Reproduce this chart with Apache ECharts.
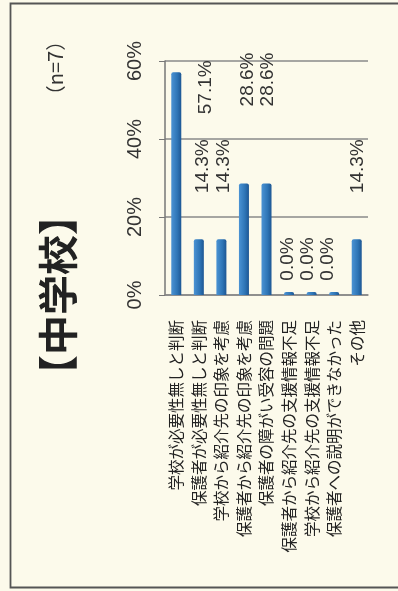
<!DOCTYPE html>
<html>
<head>
<meta charset="utf-8">
<script src="https://cdn.jsdelivr.net/npm/echarts@6/dist/echarts.min.js"></script>
<style>
  html, body { margin: 0; padding: 0; background: #fcfaeb; }
  #chart { width: 398px; height: 591px; }
</style>
</head>
<body>
<div id="chart"></div>
<script>
// 項目
const categories = [
  '学校が必要性無しと判断',
  '保護者が必要性無しと判断',
  '学校から紹介先の印象を考慮',
  '保護者から紹介先の印象を考慮',
  '保護者の障がい受容の問題',
  '保護者から紹介先の支援情報不足',
  '学校から紹介先の支援情報不足',
  '保護者への説明ができなかった',
  'その他'
]
// 割合(%)
const values = [57.1, 14.3, 14.3, 28.6, 28.6, 0.0, 0.0, 0.0, 14.3]
// 目盛
const valueMin = 0
const valueMax = 60
const valueStep = 20

// ラベル位置（棒の左上からの位置）
const labelPos = [[34, 15], [9, -73], [7, -73], [9, -104], [6, -104], [4, -33], [1, -33], [-1, -33], [6, -73]]

const chart = echarts.init(document.getElementById('chart'))

chart.setOption({
  backgroundColor: '#fcfaeb',
  animation: false,
  grid: { left: 165, right: 30, top: 61, bottom: 296 },
  graphic: [
    {
      type: 'rect',
      shape: { x: 10.5, y: 3.5, width: 420, height: 584 },
      style: { fill: 'none', stroke: '#555', lineWidth: 1.8 },
      silent: true
    },
    {
      type: 'text',
      x: 58, y: 295, rotation: Math.PI / 2,
      style: {
        text: '【中学校】',
        font: 'bold 40px "Noto Sans CJK JP"',
        fill: '#222',
        align: 'center',
        verticalAlign: 'middle'
      }
    },
    {
      type: 'text',
      x: 55, y: 68, rotation: Math.PI / 2,
      style: {
        text: '（n=7）',
        font: '20px "Noto Sans CJK JP"',
        fill: '#333',
        align: 'center',
        verticalAlign: 'middle'
      }
    }
  ],
  xAxis: {
    type: 'category',
    data: categories,
    axisLine: { lineStyle: { color: '#888', width: 1.5 } },
    axisTick: { show: false },
    axisLabel: {
      interval: 0,
      rotate: 90,
      margin: 25,
      fontSize: 15.5,
      fontFamily: '"Noto Sans CJK JP"',
      color: '#222'
    }
  },
  yAxis: {
    type: 'value',
    min: valueMin,
    max: valueMax,
    interval: valueStep,
    axisLine: { show: true, lineStyle: { color: '#777', width: 1.5 } },
    axisTick: { show: true, length: 6, lineStyle: { color: '#777' } },
    splitLine: { lineStyle: { color: '#8a8a8a', width: 1.5 } },
    axisLabel: {
      rotate: 90,
      margin: 20,
      fontSize: 20,
      fontFamily: '"Liberation Sans"',
      color: '#333',
      formatter: '{value}%'
    }
  },
  series: [{
    type: 'bar',
    barWidth: 10,
    barMinHeight: 3,
    data: values.map((v, i) => ({
      value: v,
      label: { position: labelPos[i] }
    })),
    itemStyle: {
      borderRadius: [2, 2, 0, 0],
      color: new echarts.graphic.LinearGradient(0, 0, 1, 0, [
        { offset: 0, color: '#4b93d4' },
        { offset: 0.6, color: '#2e75b6' },
        { offset: 1, color: '#1d5693' }
      ])
    },
    label: {
      show: true,
      rotate: 90,
      align: 'center',
      verticalAlign: 'middle',
      fontSize: 19,
      fontFamily: '"Liberation Sans"',
      color: '#333',
      formatter: p => p.value.toFixed(1) + '%'
    }
  }]
})
</script>
</body>
</html>
